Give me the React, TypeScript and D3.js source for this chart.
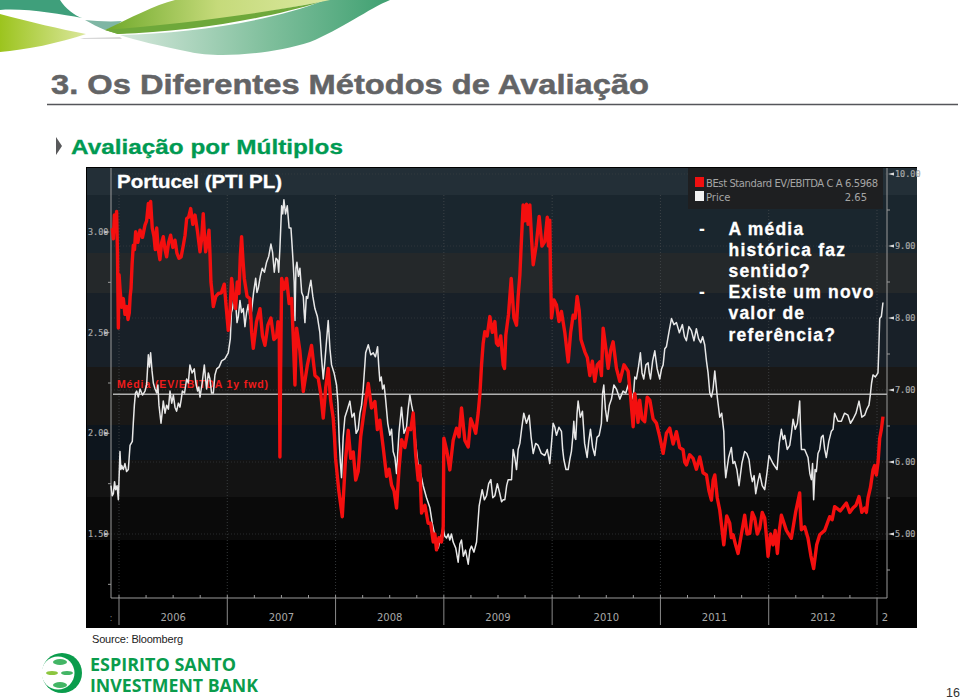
import React from "react"
import * as d3 from "d3"

// [years since 1 Jan 2006, value]
const priceSeries: [number, number][] = [[-.074,1.74],[-.063,1.69],[-.052,1.7],[-.041,1.76],[-.031,1.72],[-.018,1.74],[-.006,1.67],[.002,1.8],[.009,1.91],[.017,1.82],[.025,1.84],[.04,1.82],[.055,1.85],[.07,1.81],[.086,1.82],[.094,1.88],[.102,1.94],[.123,1.96],[.132,2.05],[.142,2.14],[.152,2.2],[.163,2.21],[.178,2.18],[.194,2.22],[.217,2.19],[.24,2.21],[.255,2.24],[.271,2.39],[.282,2.33],[.292,2.4],[.305,2.31],[.317,2.25],[.333,2.22],[.348,2.2],[.359,2.24],[.369,2.14],[.388,2.05],[.398,2.1],[.409,2.16],[.425,2.1],[.44,2.14],[.456,2.12],[.471,2.21],[.487,2.15],[.502,2.19],[.517,2.13],[.532,2.11],[.548,2.15],[.563,2.13],[.575,2.17],[.585,2.21],[.605,2.2],[.625,2.27],[.64,2.25],[.655,2.34],[.675,2.3],[.695,2.32],[.71,2.25],[.726,2.21],[.737,2.23],[.748,2.18],[.768,2.25],[.788,2.34],[.798,2.28],[.809,2.22],[.825,2.3],[.84,2.27],[.855,2.2],[.871,2.2],[.886,2.29],[.902,2.32],[.925,2.33],[.948,2.36],[.978,2.37],[1.009,2.4],[1.028,2.47],[1.038,2.6],[1.049,2.62],[1.063,2.68],[1.077,2.65],[1.09,2.55],[1.102,2.58],[1.117,2.66],[1.132,2.6],[1.148,2.62],[1.163,2.53],[1.178,2.6],[1.194,2.64],[1.21,2.57],[1.225,2.61],[1.243,2.7],[1.262,2.77],[1.274,2.7],[1.286,2.72],[1.305,2.78],[1.323,2.82],[1.343,2.8],[1.363,2.85],[1.383,2.88],[1.403,2.94],[1.418,2.9],[1.434,2.8],[1.45,2.87],[1.465,2.86],[1.475,2.8],[1.486,2.92],[1.502,3.13],[1.512,3.09],[1.523,3.16],[1.538,3.09],[1.554,3.13],[1.571,3.02],[1.588,3.02],[1.6,2.92],[1.609,2.84],[1.618,2.75],[1.625,2.56],[1.634,2.82],[1.643,2.85],[1.657,2.78],[1.671,2.82],[1.687,2.7],[1.702,2.68],[1.71,2.6],[1.717,2.55],[1.73,2.68],[1.742,2.67],[1.757,2.72],[1.772,2.76],[1.79,2.68],[1.809,2.62],[1.832,2.58],[1.855,2.5],[1.87,2.38],[1.886,2.27],[1.9,2.35],[1.915,2.45],[1.932,2.56],[1.948,2.42],[1.963,2.34],[1.986,2.3],[2.009,2.24],[2.022,2.15],[2.034,1.96],[2.045,1.85],[2.055,1.78],[2.07,1.98],[2.086,2.08],[2.11,2.12],[2.132,2.16],[2.152,2.08],[2.172,2.1],[2.19,2.0],[2.209,2.02],[2.225,2.1],[2.24,2.14],[2.255,2.22],[2.278,2.4],[2.302,2.44],[2.325,2.39],[2.348,2.4],[2.368,2.38],[2.388,2.43],[2.398,2.34],[2.409,2.26],[2.422,2.28],[2.434,2.22],[2.448,2.24],[2.462,2.17],[2.482,2.05],[2.502,1.99],[2.517,2.02],[2.532,1.91],[2.548,1.88],[2.563,1.8],[2.585,2.0],[2.609,2.13],[2.632,2.0],[2.655,2.03],[2.67,2.12],[2.686,2.19],[2.702,2.14],[2.717,2.1],[2.74,1.95],[2.763,1.84],[2.786,1.8],[2.809,1.74],[2.84,1.68],[2.871,1.63],[2.894,1.55],[2.917,1.49],[2.932,1.47],[2.948,1.43],[2.97,1.48],[2.994,1.53],[3.008,1.49],[3.025,1.48],[3.04,1.5],[3.055,1.47],[3.07,1.5],[3.086,1.46],[3.11,1.43],[3.132,1.36],[3.148,1.45],[3.163,1.47],[3.18,1.39],[3.2,1.42],[3.225,1.35],[3.24,1.42],[3.255,1.44],[3.278,1.41],[3.302,1.46],[3.314,1.55],[3.326,1.64],[3.34,1.68],[3.354,1.72],[3.374,1.67],[3.394,1.69],[3.414,1.75],[3.434,1.77],[3.452,1.68],[3.471,1.69],[3.494,1.75],[3.517,1.7],[3.533,1.66],[3.548,1.67],[3.563,1.67],[3.58,1.74],[3.594,1.77],[3.625,1.77],[3.64,1.92],[3.655,1.88],[3.671,1.82],[3.686,1.92],[3.702,1.95],[3.72,2.03],[3.738,2.1],[3.763,2.05],[3.788,2.09],[3.806,1.98],[3.825,1.9],[3.848,1.95],[3.871,1.94],[3.9,1.9],[3.932,1.89],[3.955,1.92],[3.978,1.85],[3.994,1.95],[4.009,2.05],[4.025,2.03],[4.04,1.99],[4.063,2.03],[4.086,2.01],[4.097,1.92],[4.108,1.87],[4.128,1.82],[4.148,1.82],[4.163,1.87],[4.178,1.91],[4.19,1.98],[4.2,2.06],[4.21,1.98],[4.218,1.97],[4.23,2.1],[4.24,2.16],[4.26,2.08],[4.28,2.11],[4.3,1.95],[4.323,1.88],[4.338,1.96],[4.354,2.02],[4.374,1.93],[4.394,1.89],[4.414,1.98],[4.434,1.99],[4.445,2.02],[4.455,2.05],[4.466,2.2],[4.477,2.24],[4.492,2.12],[4.508,2.06],[4.528,2.14],[4.548,2.17],[4.57,2.24],[4.594,2.22],[4.625,2.17],[4.655,2.21],[4.68,2.2],[4.702,2.24],[4.725,2.2],[4.748,2.17],[4.763,2.28],[4.778,2.27],[4.797,2.33],[4.815,2.4],[4.83,2.3],[4.846,2.27],[4.866,2.34],[4.886,2.35],[4.897,2.3],[4.908,2.27],[4.928,2.36],[4.948,2.41],[4.97,2.32],[4.994,2.27],[5.01,2.32],[5.025,2.34],[5.04,2.42],[5.055,2.43],[5.078,2.5],[5.102,2.57],[5.125,2.54],[5.148,2.55],[5.175,2.5],[5.203,2.54],[5.222,2.48],[5.24,2.46],[5.263,2.53],[5.286,2.51],[5.31,2.46],[5.332,2.52],[5.352,2.47],[5.372,2.45],[5.39,2.48],[5.409,2.44],[5.425,2.36],[5.44,2.3],[5.456,2.2],[5.471,2.18],[5.486,2.22],[5.502,2.31],[5.525,2.18],[5.548,2.08],[5.566,2.1],[5.585,2.01],[5.594,1.85],[5.603,1.78],[5.63,1.88],[5.655,1.93],[5.67,1.85],[5.686,1.86],[5.706,1.82],[5.726,1.74],[5.752,1.85],[5.778,1.91],[5.798,1.9],[5.818,1.87],[5.834,1.8],[5.849,1.76],[5.865,1.79],[5.88,1.7],[5.9,1.76],[5.917,1.8],[5.94,1.74],[5.963,1.72],[5.983,1.8],[6.003,1.89],[6.04,1.85],[6.077,1.82],[6.097,1.95],[6.117,2.02],[6.133,1.97],[6.148,1.99],[6.171,1.92],[6.194,1.94],[6.21,2.0],[6.225,2.07],[6.245,2.02],[6.265,2.05],[6.275,2.1],[6.286,2.16],[6.294,2.02],[6.302,1.92],[6.332,1.92],[6.363,1.88],[6.38,1.8],[6.394,1.77],[6.405,1.85],[6.415,1.67],[6.428,1.82],[6.44,1.81],[6.455,1.9],[6.471,1.92],[6.486,1.98],[6.502,1.99],[6.517,1.92],[6.532,1.88],[6.555,1.96],[6.578,2.01],[6.594,2.02],[6.609,2.1],[6.64,2.06],[6.671,2.06],[6.7,2.1],[6.732,2.09],[6.755,2.05],[6.778,2.07],[6.806,2.1],[6.834,2.16],[6.86,2.08],[6.886,2.09],[6.906,2.12],[6.926,2.14],[6.938,2.19],[6.95,2.25],[6.963,2.29],[6.985,2.28],[7.009,2.3],[7.017,2.42],[7.025,2.57],[7.04,2.58],[7.055,2.65]]
const evSeries: [number, number][] = [[-.062,9.25],[-.052,9.1],[-.043,9.43],[-.033,9.2],[-.022,9.48],[-.014,8.9],[-.006,7.86],[.001,8.6],[.009,8.41],[.024,8.15],[.04,8.27],[.055,8.05],[.071,8.16],[.083,7.98],[.095,8.07],[.103,8.3],[.111,8.41],[.121,8.75],[.132,9.01],[.143,8.95],[.154,9.2],[.174,9.05],[.194,9.22],[.217,9.12],[.24,9.29],[.255,9.35],[.271,9.59],[.282,9.4],[.292,9.62],[.307,9.25],[.323,9.13],[.335,8.95],[.348,9.25],[.363,8.95],[.378,8.81],[.394,9.05],[.409,9.13],[.425,8.95],[.44,8.85],[.458,9.05],[.477,9.15],[.497,8.98],[.517,9.08],[.535,8.9],[.554,8.83],[.574,8.85],[.594,9.01],[.61,9.15],[.625,9.38],[.643,9.4],[.662,9.52],[.682,9.3],[.702,9.43],[.725,9.2],[.748,8.92],[.763,9.1],[.778,9.45],[.789,9.15],[.8,8.92],[.815,9.05],[.831,9.22],[.84,8.9],[.849,8.5],[.86,8.35],[.871,8.16],[.894,8.3],[.917,8.34],[.945,8.35],[.972,8.47],[.99,8.15],[1.009,7.83],[1.025,8.1],[1.04,8.55],[1.058,8.3],[1.077,8.13],[1.092,8.5],[1.108,8.34],[1.12,8.85],[1.132,9.13],[1.145,8.8],[1.157,8.55],[1.183,8.3],[1.209,8.27],[1.225,7.8],[1.24,7.58],[1.27,7.95],[1.302,8.13],[1.325,7.75],[1.348,7.62],[1.375,7.9],[1.403,8],[1.43,7.7],[1.455,7.74],[1.468,7.95],[1.48,7.82],[1.486,6.07],[1.492,7.2],[1.502,8.55],[1.525,8.4],[1.548,8.55],[1.571,8.2],[1.594,8.27],[1.61,7.7],[1.625,7.07],[1.632,7.5],[1.64,7.86],[1.67,7.55],[1.702,6.98],[1.74,7.35],[1.778,7.62],[1.81,7.2],[1.84,7.16],[1.863,6.95],[1.886,6.61],[1.91,7.05],[1.932,7.3],[1.955,6.85],[1.978,6.61],[1.99,6.35],[2,6.05],[2.03,5.6],[2.062,5.24],[2.09,6],[2.117,6.44],[2.14,6.05],[2.163,6.14],[2.186,5.75],[2.209,5.87],[2.232,6.35],[2.255,6.61],[2.278,6.85],[2.302,7.09],[2.332,6.75],[2.363,6.84],[2.386,6.45],[2.409,6.58],[2.44,6.2],[2.471,5.8],[2.494,5.9],[2.517,5.68],[2.54,5.6],[2.563,5.36],[2.586,5.9],[2.609,6.31],[2.64,6.2],[2.671,6.47],[2.694,6.45],[2.717,6.68],[2.74,6.1],[2.763,5.75],[2.778,5.95],[2.794,5.29],[2.825,5.4],[2.855,5.15],[2.878,5.15],[2.902,4.89],[2.917,5],[2.932,4.78],[2.955,4.95],[2.978,4.89],[2.994,5.1],[3,6.33],[3.028,6.15],[3.055,5.89],[3.086,6.3],[3.117,6.47],[3.14,6.35],[3.163,6.75],[3.194,6.3],[3.225,6.21],[3.248,6.6],[3.271,6.51],[3.294,6.4],[3.317,6.68],[3.333,6.95],[3.348,7.35],[3.363,7.65],[3.378,7.81],[3.4,7.75],[3.425,8.02],[3.448,7.8],[3.471,7.95],[3.486,7.65],[3.502,7.62],[3.525,7.75],[3.548,7.35],[3.56,7.3],[3.572,7.76],[3.597,8.05],[3.622,8.55],[3.647,8],[3.671,7.9],[3.686,8.3],[3.702,8.6],[3.717,9.1],[3.732,9.57],[3.748,9.35],[3.763,9.58],[3.778,9.3],[3.794,9.57],[3.81,9.1],[3.825,8.74],[3.852,9],[3.88,9.41],[3.906,9],[3.932,9.06],[3.955,9.4],[3.966,9],[3.978,9.36],[3.985,8.6],[3.994,8],[4.017,8.25],[4.04,8.18],[4.063,7.95],[4.086,8.09],[4.117,7.8],[4.148,7.39],[4.171,7.8],[4.194,8.04],[4.212,8],[4.231,8.3],[4.25,8.1],[4.266,7.7],[4.302,7.53],[4.325,7.45],[4.348,7.2],[4.371,7.4],[4.394,7.12],[4.417,7.35],[4.44,7.39],[4.455,7.2],[4.471,7.86],[4.494,7.6],[4.517,7.3],[4.54,7.55],[4.563,7.67],[4.594,7.3],[4.625,7.12],[4.663,7.35],[4.702,7.26],[4.725,6.9],[4.748,6.49],[4.763,6.95],[4.778,6.79],[4.793,6.55],[4.808,6.86],[4.83,6.6],[4.855,6.56],[4.878,6.9],[4.902,6.86],[4.932,6.6],[4.963,6.54],[4.994,6.35],[5.025,6.12],[5.055,6.4],[5.086,6.47],[5.117,6.25],[5.148,6.42],[5.178,6.2],[5.209,6.17],[5.224,6],[5.24,5.96],[5.27,6.1],[5.302,6.05],[5.332,5.9],[5.363,6.07],[5.394,5.85],[5.425,5.82],[5.448,5.6],[5.471,5.47],[5.487,5.75],[5.502,5.82],[5.525,5.5],[5.548,5.33],[5.566,5.1],[5.585,4.85],[5.612,5.25],[5.64,5.15],[5.655,4.95],[5.671,4.99],[5.694,4.85],[5.717,4.73],[5.748,5],[5.778,5.26],[5.8,5],[5.825,5.01],[5.848,5.3],[5.871,5.22],[5.894,5],[5.917,5.08],[5.94,5.3],[5.963,5.22],[5.98,4.95],[5.994,4.69],[6.017,5],[6.04,4.85],[6.06,5.05],[6.08,4.73],[6.098,5.05],[6.117,5.26],[6.163,5.05],[6.209,4.94],[6.248,5.3],[6.286,5.57],[6.294,5.25],[6.302,5.06],[6.332,5.1],[6.363,4.94],[6.389,4.7],[6.415,4.52],[6.443,4.85],[6.471,4.99],[6.517,5.05],[6.563,5.24],[6.586,5.2],[6.609,5.38],[6.66,5.32],[6.717,5.43],[6.748,5.3],[6.778,5.36],[6.806,5.4],[6.834,5.52],[6.86,5.3],[6.886,5.36],[6.902,5.3],[6.917,5.5],[6.94,5.65],[6.963,5.89],[6.978,5.95],[6.994,5.82],[7.01,6],[7.025,6.33],[7.04,6.45],[7.055,6.63]]
const meanEv = 6.94
const yearLabels = [2006, 2007, 2008, 2009, 2010, 2011, 2012]
const leftTicks = [3, 2.5, 2, 1.5]
const leftMinorTicks = [2.75, 2.25, 1.75, 1.25]
const rightTicks = [10, 9, 8, 7, 6, 5]
const rightMinorTicks = [9.5, 8.5, 7.5, 6.5, 5.5, 4.5]
const bands = [
  { top: 168, bottom: 195, color: "#232f37" },
  { top: 195, bottom: 253, color: "#1a262e" },
  { top: 253, bottom: 293, color: "#24282a" },
  { top: 293, bottom: 367, color: "#182028" },
  { top: 367, bottom: 425, color: "#191817" },
  { top: 425, bottom: 460, color: "#0d151d" },
  { top: 460, bottom: 497, color: "#131313" },
  { top: 497, bottom: 540, color: "#0a0a0a" },
  { top: 540, bottom: 628, color: "#000000" },
]
const notes = [
  { dash: true, text: "A média" },
  { dash: false, text: "histórica faz" },
  { dash: false, text: "sentido?" },
  { dash: true, text: "Existe um novo" },
  { dash: false, text: "valor de" },
  { dash: false, text: "referência?" },
]

const x = d3.scaleLinear().domain([0, 7]).range([119, 877])
const yLeft = d3.scaleLinear().domain([3, 1.5]).range([232, 534])
const yRight = d3.scaleLinear().domain([10, 5]).range([174, 534])

const arial = "'Liberation Sans', Arial, sans-serif"
const axisGray = "#9a9a9a"

export default function App() {
  const priceLine = d3.line<[number, number]>().x((d) => x(d[0])).y((d) => yLeft(d[1]))
  const evLine = d3.line<[number, number]>().x((d) => x(d[0])).y((d) => yRight(d[1]))

  return (
    <svg width={960} height={699} style={{ position: "absolute", left: 0, top: 0, background: "#fff" }}>
      <defs>
        <linearGradient id="ribbonA" x1="0" x2="1" y1="0" y2="0">
          <stop offset="0" stopColor="#d6e8dc" />
          <stop offset="0.55" stopColor="#7fbf9c" />
          <stop offset="1" stopColor="#3fa071" />
        </linearGradient>
        <linearGradient id="ribbonB" x1="0" x2="1" y1="0" y2="0">
          <stop offset="0" stopColor="#6fa92a" />
          <stop offset="0.5" stopColor="#c5da7a" />
          <stop offset="1" stopColor="#dbe8a0" />
        </linearGradient>
        <linearGradient id="ribbonC" x1="0" x2="1" y1="0" y2="0">
          <stop offset="0" stopColor="#9cc41e" />
          <stop offset="1" stopColor="#dbe79c" />
        </linearGradient>
      </defs>

      {/* header ribbon */}
      <path d="M0,0 L60,0 C65,8 75,16 82,18 C60,14 25,8 0,10 Z" fill="#3f9f7b" />
      <path d="M0,14 C30,22 60,29 86,34 C60,43 25,50 0,52 Z" fill="url(#ribbonC)" />
      <path d="M85,20 C95,21 110,22 122,21 C118,25 112,28 105,30 C98,27 92,24 85,20 Z" fill="#7fb6a4" />
      <path d="M84,38 L120,37 L122,39 L80,39 Z" fill="#d8d8d8" />
      <path d="M120,35 C190,33 270,22 325,0 L390,0 C370,8 340,30 310,42 C270,55 215,58 190,52 C160,46 135,40 120,35 Z" fill="url(#ribbonA)" />
      <path d="M105,30 C130,18 155,5 175,0 L330,0 C270,12 190,26 118,34 Z" fill="url(#ribbonB)" />
      <path d="M105,30 C180,24 260,14 320,2 C270,18 190,32 118,34 Z" fill="#6ea83a" />

      <text x={51} y={94} fontFamily={arial} fontWeight="bold" fontSize={27.5} textLength={598} lengthAdjust="spacingAndGlyphs" stroke="#636466" strokeWidth={0.5} fill="#636466">
        3. Os Diferentes Métodos de Avaliação
      </text>
      <line x1={47} x2={958} y1={104.5} y2={104.5} stroke="#55565a" strokeWidth={1.3} />
      <path d="M56,137 L62,146 L56,155 Z" fill="#58595b" />
      <text x={71} y={154} fontFamily={arial} fontWeight="bold" fontSize={21} textLength={272} lengthAdjust="spacingAndGlyphs" stroke="#009a52" strokeWidth={0.3} fill="#009a52">
        Avaliação por Múltiplos
      </text>

      {/* chart panel */}
      <rect x={86} y={167} width={831} height={461} fill="#000" />
      {bands.map((b) => (
        <rect key={b.top} x={87} y={b.top} width={830} height={b.bottom - b.top} fill={b.color} />
      ))}

      {/* grid */}
      {d3.range(0, 8).map((t) => (
        <line key={t} x1={x(t)} x2={x(t)} y1={195} y2={598} stroke="#4a4f52" strokeWidth={0.7} strokeDasharray="1 2" />
      ))}
      {rightTicks.map((t) => (
        <line key={t} x1={111} x2={887} y1={yRight(t)} y2={yRight(t)} stroke="#3d4244" strokeWidth={0.6} strokeDasharray="1 2" />
      ))}

      {/* axes */}
      <line x1={111} x2={111} y1={168} y2={598} stroke={axisGray} />
      <line x1={887} x2={887} y1={168} y2={598} stroke={axisGray} />
      <line x1={111} x2={887} y1={598} y2={598} stroke={axisGray} />
      {leftTicks.map((t) => (
        <g key={t}>
          <path d={`M110,${yLeft(t)} l-6,-1.5 v3 Z`} fill="#ddd" />
          <text x={88} y={yLeft(t) + 3} fontFamily="'DejaVu Sans Mono', monospace" fontSize={8.5} fill="#a8a8a8" stroke="#a8a8a8" strokeWidth={0.2}>
            {t.toFixed(2)}
          </text>
        </g>
      ))}
      {leftMinorTicks.map((t) => (
        <line key={t} x1={108} x2={111} y1={yLeft(t)} y2={yLeft(t)} stroke={axisGray} />
      ))}
      {rightTicks.map((t) => (
        <g key={t}>
          <path d={`M888,${yRight(t)} l6,-1.5 v3 Z`} fill="#ddd" />
          <text x={895} y={yRight(t) + 3} fontFamily="'DejaVu Sans Mono', monospace" fontSize={8.5} fill="#a8a8a8" stroke="#a8a8a8" strokeWidth={0.2}>
            {t.toFixed(2)}
          </text>
        </g>
      ))}
      {rightMinorTicks.map((t) => (
        <line key={t} x1={887} x2={890} y1={yRight(t)} y2={yRight(t)} stroke={axisGray} />
      ))}
      {d3.range(0, 8).map((t) => (
        <line key={t} x1={x(t)} x2={x(t)} y1={598} y2={625} stroke="#8a8a8a" />
      ))}
      {d3.range(0, 7, 0.25).map((t) => (
        <line key={t} x1={x(t)} x2={x(t)} y1={595} y2={598} stroke={axisGray} />
      ))}
      {yearLabels.map((y, i) => (
        <text key={y} x={x(i + 0.5)} y={621} textAnchor="middle" fontFamily="'DejaVu Sans', sans-serif" fontSize={10} fill="#a8a8a8">
          {y}
        </text>
      ))}
      <text x={885} y={621} textAnchor="middle" fontFamily="'DejaVu Sans', sans-serif" fontSize={10} fill="#a8a8a8">2</text>
      <text x={111} y={621} textAnchor="middle" fontFamily="'DejaVu Sans', sans-serif" fontSize={9} fill="#777">:</text>

      {/* series */}
      <line x1={113} x2={887} y1={yRight(meanEv)} y2={yRight(meanEv)} stroke="#b0b0b0" strokeWidth={1.4} />
      <text x={117} y={388} fontFamily={arial} fontWeight="bold" fontSize={10.5} textLength={151} fill="#ee1c1c">
        Média (EV/EBITDA 1y fwd)
      </text>
      <path d={priceLine(priceSeries) ?? ""} fill="none" stroke="#e8e8e8" strokeWidth={1.5} strokeLinejoin="round" />
      <path d={evLine(evSeries) ?? ""} fill="none" stroke="#f40f0f" strokeWidth={3.4} strokeLinejoin="round" />

      {/* legend */}
      <rect x={688} y={168} width={195} height={41} fill="#1e1f21" />
      <rect x={695} y={177} width={9} height={10} fill="#f01010" />
      <rect x={695} y={191} width={9} height={10} fill="#f2f2f2" />
      <text x={706} y={187} fontFamily="'DejaVu Sans', sans-serif" fontSize={10} fill="#a5a5a5" textLength={172}>
        BEst Standard EV/EBITDA C A 6.5968
      </text>
      <text x={706} y={201} fontFamily="'DejaVu Sans', sans-serif" fontSize={10} fill="#a5a5a5">Price</text>
      <text x={867} y={201} textAnchor="end" fontFamily="'DejaVu Sans', sans-serif" fontSize={10} fill="#a5a5a5">2.65</text>

      <text x={117} y={188} fontFamily={arial} fontWeight="bold" fontSize={17.5} textLength={165} lengthAdjust="spacingAndGlyphs" stroke="#fff" strokeWidth={0.3} fill="#fff">
        Portucel (PTI PL)
      </text>

      {notes.map((n, i) => (
        <g key={n.text}>
          {n.dash && (
            <text x={699} y={234.5 + i * 21.2} fontFamily={arial} fontWeight="bold" fontSize={17.5} fill="#fff">-</text>
          )}
          <text x={728.5} y={234.5 + i * 21.2} fontFamily={arial} fontWeight="bold" fontSize={17.5} letterSpacing={1.2} stroke="#fff" strokeWidth={0.3} fill="#fff">
            {n.text}
          </text>
        </g>
      ))}

      <text x={92} y={643} fontFamily={arial} fontSize={11} textLength={91} fill="#222">Source: Bloomberg</text>

      {/* logo */}
      <circle cx={62} cy={673} r={20} fill="#0a9c4c" />
      <circle cx={58} cy={673} r={16.5} fill="#fff" />
      <ellipse cx={60} cy={662} rx={7} ry={3} fill="#43b565" />
      <ellipse cx={60} cy={685} rx={7} ry={3} fill="#43b565" />
      <ellipse cx={52} cy={673} rx={6} ry={2} fill="#8cc63f" />
      <ellipse cx={67} cy={673} rx={6} ry={2} fill="#43b565" />
      <text x={90} y={671} fontFamily="'Open Sans', sans-serif" fontWeight="bold" fontSize={17} textLength={146} lengthAdjust="spacingAndGlyphs" fill="#0a9c4c">ESPIRITO SANTO</text>
      <text x={90} y={692} fontFamily="'Open Sans', sans-serif" fontWeight="bold" fontSize={17} textLength={168} lengthAdjust="spacingAndGlyphs" fill="#0a9c4c">INVESTMENT BANK</text>

      <text x={946} y={697} fontFamily={arial} fontSize={12.5} fill="#333">16</text>
    </svg>
  )
}
